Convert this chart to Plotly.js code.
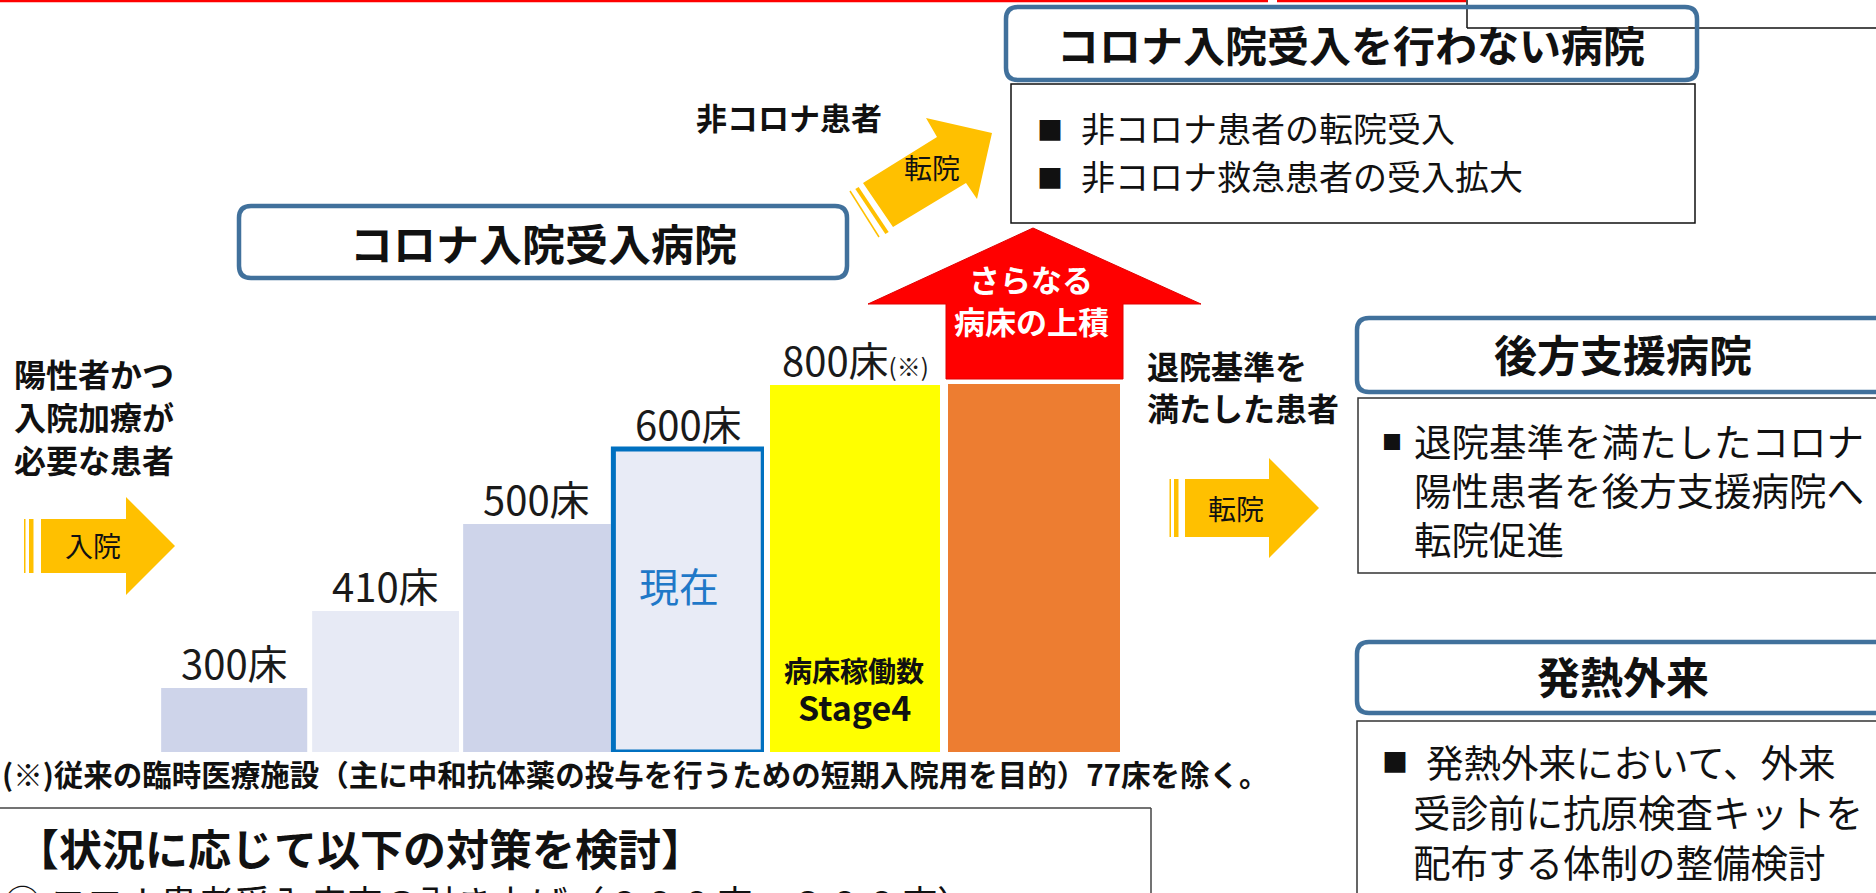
<!DOCTYPE html>
<html><head><meta charset="utf-8">
<script src="https://cdn.plot.ly/plotly-3.0.1.min.js"></script>
<style>html,body{margin:0;padding:0;background:#fff;overflow:hidden}#chart{width:1876px;height:893px}</style>
</head><body><div id="chart"></div>
<script>
// ---- data ----
const stepNames  = ["300床", "410床", "500床", "現在", "Stage4", "上積"];
const bedLabels  = ["300床", "410床", "500床", "600床", "800床(※)", ""];
// visual bar height (axis units: 752 = full bar-area height)
const barHeights = [64, 141, 228, 303, 367, 368];
const barColors  = ["#CED4EA", "#E7EAF5", "#CED4EA", "#E8EBF6", "#FFFF00", "#ED7D31"];

const leftLabel   = ["陽性者かつ", "入院加療が", "必要な患者"];
const dischargeLb = ["退院基準を", "満たした患者"];
const nonCovidItems = ["非コロナ患者の転院受入", "非コロナ救急患者の受入拡大"];
const backupItems = ["退院基準を満たしたコロナ", "陽性患者を後方支援病院へ", "転院促進"];
const feverItems  = ["発熱外来において、外来", "受診前に抗原検査キットを", "配布する体制の整備検討"];
const footnote = "(※)従来の臨時医療施設（主に中和抗体薬の投与を行うための短期入院用を目的）77床を除く。";
const planTitle = "【状況に応じて以下の対策を検討】";
const planItem1 = "① コロナ患者受入病床の引き上げ（６００床→８００床）";

// ---- layout helpers ----
const W = 1876, H = 893;
const JP = '"Noto Sans CJK JP", "Noto Sans", sans-serif';
const fmtLabel = s => s.replace("(※)", "<span style='font-size:24px'>(※)</span>");

function T(text, x, y, size, o) {
  o = o || {};
  return {xref: "x3", yref: "y3", x: x, y: y, text: text, showarrow: false,
    xanchor: o.xa || "center", yanchor: o.ya || "middle",
    font: {family: JP, size: size, color: o.color || "#111", weight: o.bold ? 700 : 400}};
}
function P(path, fill, lc, lw) {
  return {type: "path", xref: "x3", yref: "y3", path: path,
    fillcolor: fill || "rgba(0,0,0,0)", line: {color: lc || "rgba(0,0,0,0)", width: lw || 0}};
}
function L(x0, y0, x1, y1, c, w) {
  return {type: "line", xref: "x3", yref: "y3", x0: x0, y0: y0, x1: x1, y1: y1, line: {color: c, width: w}};
}
function R(x0, y0, x1, y1, fill, lc, lw) {
  return {type: "rect", xref: "x3", yref: "y3", x0: x0, y0: y0, x1: x1, y1: y1,
    fillcolor: fill || "rgba(0,0,0,0)", line: {color: lc || "rgba(0,0,0,0)", width: lw || 0}};
}
function rr(x0, y0, x1, y1, r) {
  return `M ${x0+r},${y0} L ${x1-r},${y0} Q ${x1},${y0} ${x1},${y0+r} L ${x1},${y1-r} Q ${x1},${y1} ${x1-r},${y1} ` +
         `L ${x0+r},${y1} Q ${x0},${y1} ${x0},${y1-r} L ${x0},${y0+r} Q ${x0},${y0} ${x0+r},${y0} Z`;
}
const BLUE = "#41719C", YEL = "#FFC000";

// ---- traces ----
const n1 = 4;
const traceA = {
  type: "bar", x: stepNames.slice(0, n1), y: barHeights.slice(0, n1), xaxis: "x", yaxis: "y",
  width: [0.965, 0.97, 0.975, 0.99],
  marker: {color: barColors.slice(0, n1),
    line: {width: [0, 0, 0, 5], color: ["#fff", "#fff", "#fff", "#0070C0"]}},
  hoverinfo: "skip"
};
const traceB = {
  type: "bar", x: stepNames.slice(n1), y: barHeights.slice(n1), xaxis: "x2", yaxis: "y",
  width: [0.95, 0.96],
  marker: {color: barColors.slice(n1), line: {width: 0}},
  hoverinfo: "skip"
};
const overlay = {type: "scatter", x: [], y: [], xaxis: "x3", yaxis: "y3", hoverinfo: "skip", showlegend: false};

// ---- shapes ----
const shapes = [
  L(0, 1, 1268, 1, "#FF0000", 2.5), L(1277, 1, 1466, 1, "#FF0000", 2.5),
  L(1467, -5, 1467, 28, "#111", 1.5), L(1467, 28, 1890, 28, "#111", 1.5),
  // hospital boxes
  P(rr(239, 206, 847, 278, 12), "#fff", BLUE, 4.5),
  P(rr(1006, 7, 1697, 80, 12), "rgba(0,0,0,0)", BLUE, 4.5),
  R(1011, 84, 1695, 223, "#fff", "#111", 1.5),
  P(rr(1357, 318, 1900, 392, 12), "#fff", BLUE, 4.5),
  R(1358, 398, 1900, 573, "#fff", "#333", 1.5),
  P(rr(1357, 642, 1900, 713, 12), "#fff", BLUE, 4.5),
  R(1357, 721, 1900, 910, "#fff", "#333", 1.5),
  // bottom-left plan box
  L(-5, 808, 1151, 808, "#444", 1.5), L(1151, 808, 1151, 900, "#444", 1.5),
  // admission arrow
  P("M 41,519 L 126,519 L 126,497 L 175,546 L 126,595 L 126,573 L 41,573 Z", YEL),
  R(29, 519, 33.5, 573, YEL), R(24, 519, 25.5, 573, YEL),
  // discharge transfer arrow
  P("M 1185,479 L 1269,479 L 1269,458 L 1319,508 L 1269,558 L 1269,537 L 1185,537 Z", YEL),
  R(1174, 479, 1178.5, 537, YEL), R(1169.5, 479, 1171, 537, YEL),
  // diagonal transfer arrow
  P("M 863,183 L 937,137 L 926,118 L 992,133 L 977,199 L 966,183 L 893,227 Z", YEL),
  L(857, 188, 887, 233, YEL, 4), L(850, 191, 879, 237, YEL, 1.5),
  // red up arrow
  P("M 946,379 L 946,304 L 868,304 L 1033,228 L 1201,304 L 1123,304 L 1123,379 Z", "#FF0000", "#E00000", 1)
];

// ---- annotations ----
const ann = [];
// bed-count labels on top of the bars, placed through the bar axes
bedLabels.forEach((t, i) => {
  if (!t) return;
  ann.push({xref: i < n1 ? "x" : "x2", yref: "y", x: stepNames[i], y: barHeights[i],
    text: fmtLabel(t), showarrow: false, xanchor: "center", yanchor: "bottom", yshift: -5,
    font: {family: JP, size: 40, color: "#1a1a1a"}});
});
leftLabel.forEach((t, i) => ann.push(T(t, 12, 373 + i * 43, 32, {xa: "left", bold: true})));
ann.push(T("入院", 93, 545, 28));
ann.push(T("非コロナ患者", 789, 116, 31, {bold: true}));
ann.push(T("転院", 932, 167, 28));
ann.push(T("コロナ入院受入病院", 543, 242, 43, {bold: true}));
ann.push(T("コロナ入院受入を行わない病院", 1351, 43, 42, {bold: true}));
nonCovidItems.forEach((t, i) => {
  ann.push(T("■", 1050, 128 + i * 48, 26));
  ann.push(T(t, 1079, 127 + i * 48, 34, {xa: "left"}));
});
ann.push(T("さらなる", 1031, 278, 31, {bold: true, color: "#fff"}));
ann.push(T("病床の上積", 1031, 320, 31, {bold: true, color: "#fff"}));
ann.push(T("現在", 679, 585, 40, {color: "#1F78C8"}));
ann.push(T("病床稼働数", 854, 670, 28, {bold: true}));
ann.push(T("Stage4", 854, 706, 34, {bold: true}));
dischargeLb.forEach((t, i) => ann.push(T(t, 1145, 365 + i * 42, 32, {xa: "left", bold: true})));
ann.push(T("転院", 1236, 508, 28));
ann.push(T("後方支援病院", 1623, 353, 43, {bold: true}));
ann.push(T("■", 1392, 441, 20));
backupItems.forEach((t, i) => ann.push(T(t, 1412, 439 + i * 49, 37.5, {xa: "left"})));
ann.push(T("発熱外来", 1623, 675, 43, {bold: true}));
ann.push(T("■", 1395, 760, 26));
feverItems.forEach((t, i) => ann.push(T(t, i === 0 ? 1424 : 1411, 760 + i * 50, 37.5, {xa: "left"})));
ann.push(T(footnote, 0, 773, 29.5, {xa: "left", bold: true}));
ann.push(T(planTitle, 14, 847, 43, {xa: "left", bold: true}));
ann.push(T(planItem1, 2, 873, 37, {xa: "left", ya: "top"}));

const hid = {visible: false, showgrid: false, zeroline: false, fixedrange: true};
const layout = {
  width: W, height: H, margin: {l: 0, r: 0, t: 0, b: 0},
  paper_bgcolor: "#fff", plot_bgcolor: "rgba(0,0,0,0)", showlegend: false, bargap: 0,
  xaxis:  Object.assign({type: "category", domain: [158.5 / W, 764 / W], anchor: "y"}, hid),
  xaxis2: Object.assign({type: "category", domain: [765.5 / W, 1123.5 / W], anchor: "y"}, hid),
  yaxis:  Object.assign({domain: [1 - 752 / H, 1], range: [0, 752], anchor: "x"}, hid),
  xaxis3: Object.assign({domain: [0, 1], range: [0, W], anchor: "y3"}, hid),
  yaxis3: Object.assign({domain: [0, 1], range: [H, 0], anchor: "x3"}, hid),
  shapes: shapes, annotations: ann
};
Plotly.newPlot("chart", [traceA, traceB, overlay], layout, {staticPlot: true, displayModeBar: false});
</script></body></html>
